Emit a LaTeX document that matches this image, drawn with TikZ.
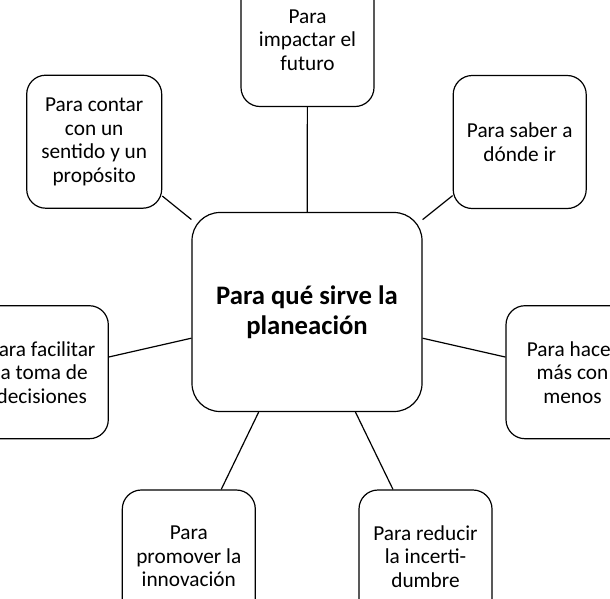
\documentclass[tikz,border=0pt]{standalone}
\usepackage{fontspec}
\setmainfont{Carlito}
\begin{document}
\begin{tikzpicture}[x=1pt,y=-1pt,line width=1.2pt,
  caja/.style={draw,rounded corners=19pt,minimum width=133pt,minimum height=133pt,
    align=center,font=\fontsize{21.3}{23.5}\selectfont},
  tema/.style={draw,rounded corners=28pt,minimum width=230pt,minimum height=199pt,
    align=center,font=\fontsize{26.7}{30}\selectfont\bfseries}]
\clip (0,0) rectangle (610,598);
\node[tema] (plan) at (307,312) {Para qué sirve la\\planeación};
\node[caja] (futuro) at (307.5,40) {Para\\impactar el\\futuro};
\node[caja,minimum width=135pt] (sentido) at (94.2,141.7) {Para contar\\con un\\sentido y un\\propósito};
\node[caja] (donde) at (519.7,142) {Para saber a\\dónde ir};
\node[caja] (decisiones) at (41.8,372.2) {Para facilitar\\la toma de\\decisiones};
\node[caja] (menos) at (572.5,372.2) {Para hacer\\más con\\menos};
\node[caja] (innovacion) at (188.8,556.5) {Para\\promover la\\innovación};
\node[caja] (incertidumbre) at (425.5,556.5) {Para reducir\\la incerti-\\dumbre};
\draw (plan) -- (futuro);
\draw (plan) -- (sentido);
\draw (plan) -- (donde);
\draw (plan) -- (decisiones);
\draw (plan) -- (menos);
\draw (plan) -- (innovacion);
\draw (plan) -- (incertidumbre);
\end{tikzpicture}
\end{document}
